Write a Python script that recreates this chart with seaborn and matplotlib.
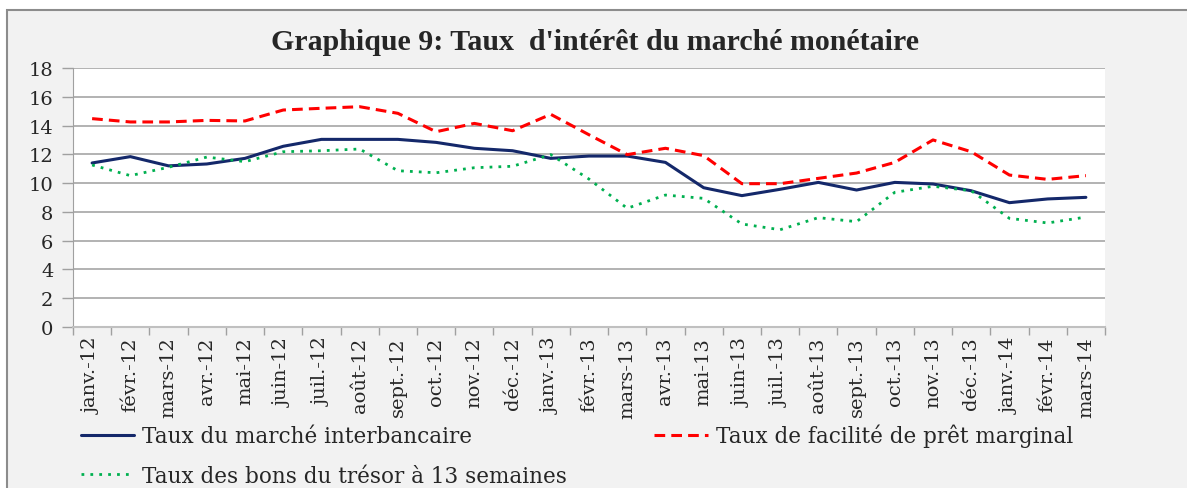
import numpy as np
import pandas as pd
import matplotlib
matplotlib.use('Agg')
import matplotlib.pyplot as plt
from matplotlib.patches import Rectangle
from matplotlib.ticker import FixedLocator
import seaborn as sns

# Données
mois = ['janv.-12', 'févr.-12', 'mars-12', 'avr.-12', 'mai-12', 'juin-12', 'juil.-12',
        'août-12', 'sept.-12', 'oct.-12', 'nov.-12', 'déc.-12', 'janv.-13', 'févr.-13',
        'mars-13', 'avr.-13', 'mai-13', 'juin-13', 'juil.-13', 'août-13', 'sept.-13',
        'oct.-13', 'nov.-13', 'déc.-13', 'janv.-14', 'févr.-14', 'mars-14']

taux_interbancaire = [11.4, 11.84, 11.2, 11.33, 11.72, 12.56, 13.04, 13.04, 13.04, 12.83,
                      12.42, 12.25, 11.72, 11.88, 11.88, 11.44, 9.68, 9.13, 9.57, 10.05,
                      9.52, 10.05, 9.94, 9.47, 8.64, 8.9, 9.01]
taux_pret_marginal = [14.48, 14.25, 14.25, 14.36, 14.32, 15.08, 15.2, 15.31, 14.85, 13.57,
                      14.15, 13.64, 14.78, 13.36, 11.98, 12.42, 11.91, 9.96, 9.96, 10.33,
                      10.7, 11.44, 13.0, 12.18, 10.56, 10.26, 10.52]
taux_bons_tresor = [11.26, 10.52, 11.1, 11.81, 11.49, 12.18, 12.25, 12.37, 10.86, 10.72,
                    11.07, 11.17, 11.98, 10.28, 8.25, 9.17, 8.94, 7.16, 6.76, 7.6,
                    7.32, 9.36, 9.78, 9.47, 7.55, 7.23, 7.64]

sns.set_style('white')
plt.rcParams['font.family'] = ['DejaVu Serif']

W, H = 1187, 489
fig = plt.figure(figsize=(W / 100, H / 100), dpi=100, facecolor='white')

# cadre gris du graphique
fig.patches.append(Rectangle((7 / W, -0.2), 2, 1.2 - 11 / H, transform=fig.transFigure,
                             facecolor='#f2f2f2', edgecolor='#8c8c8c', linewidth=1.5, zorder=-10))

ax = fig.add_axes([73 / W, 1 - 328 / H, (1105 - 73) / W, (328 - 69) / H])
ax.set_facecolor('white')

x = np.arange(len(mois))
sns.lineplot(x=x, y=taux_interbancaire, ax=ax, color='#14286a', linewidth=2.2,
             label='Taux du marché interbancaire', zorder=3)
sns.lineplot(x=x, y=taux_bons_tresor, ax=ax, color='#00b050', linewidth=2.0,
             linestyle=(0, (1, 2.2)), label='Taux des bons du trésor à 13 semaines', zorder=3)
sns.lineplot(x=x, y=taux_pret_marginal, ax=ax, color='#ff0000', linewidth=2.2,
             linestyle=(0, (3.5, 2)), label='Taux de facilité de prêt marginal', zorder=3)

ax.set_xlim(-0.5, len(mois) - 0.5)
ax.set_ylim(0, 18)
ax.set_yticks(np.arange(0, 19, 2))
ax.set_xticks(x)
ax.set_xticklabels(mois, rotation=90, fontsize=14)
ax.xaxis.set_minor_locator(FixedLocator(np.arange(-0.5, len(mois), 1)))
ax.tick_params(axis='x', which='major', length=0, pad=7)
ax.tick_params(axis='x', which='minor', length=6, color='#a0a0a0', width=1, bottom=True)
ax.tick_params(axis='y', length=8, color='#a0a0a0', width=1, pad=6, labelsize=14, left=True)

ax.grid(axis='y', color='#a6a6a6', linewidth=1.2)
ax.set_axisbelow(True)
for s in ['top', 'right']:
    ax.spines[s].set_visible(False)
ax.spines['left'].set_color('#a0a0a0')
ax.spines['bottom'].set_color('#c0c0c0')
ax.spines['bottom'].set_linewidth(1.5)

fig.text(0.501, 1 - 43 / H, "Graphique 9: Taux  d'intérêt du marché monétaire",
         ha='center', va='center', fontsize=21.5, fontweight='bold',
         family=['Liberation Serif', 'DejaVu Serif'])

handles, labels = ax.get_legend_handles_labels()
ax.get_legend().remove()
fig.legend(handles, labels, ncol=2, loc='upper left', bbox_to_anchor=(72 / W, 1 - 416 / H),
           frameon=False, fontsize=15.5, handlelength=2.5, handletextpad=0.37,
           columnspacing=4.05, labelspacing=0.83, borderaxespad=0)

fig.savefig('out.png', dpi=100, facecolor='white')
